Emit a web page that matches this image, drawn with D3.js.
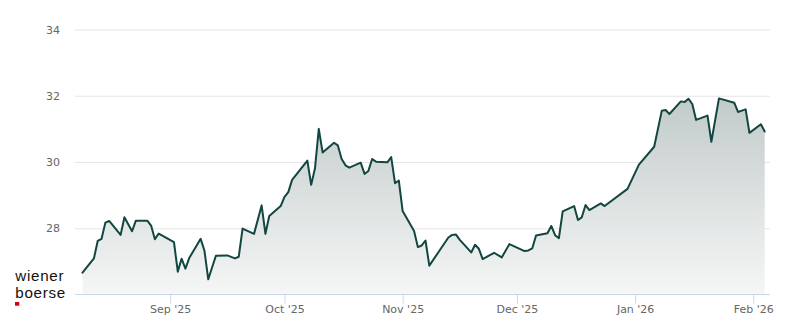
<!DOCTYPE html>
<html>
<head>
<meta charset="utf-8">
<script src="https://cdn.jsdelivr.net/npm/d3@7"></script>
<style>
  html, body { margin: 0; padding: 0; background: #ffffff; }
  svg { display: block; }
  .axis text { font-family: "DejaVu Sans", sans-serif; font-size: 11px; fill: #666666; }
</style>
</head>
<body>
<svg id="chart" width="800" height="324"></svg>
<script>
// Daily closing prices
const dates = [
  "2025-08-09","2025-08-12","2025-08-13","2025-08-14","2025-08-15","2025-08-16",
  "2025-08-19","2025-08-20","2025-08-22","2025-08-23","2025-08-26","2025-08-27",
  "2025-08-28","2025-08-29","2025-09-02","2025-09-03","2025-09-04","2025-09-05",
  "2025-09-06","2025-09-09","2025-09-10","2025-09-11","2025-09-13","2025-09-16",
  "2025-09-18","2025-09-19","2025-09-20","2025-09-23","2025-09-25","2025-09-26",
  "2025-09-27","2025-09-30","2025-10-01","2025-10-02","2025-10-03","2025-10-07",
  "2025-10-08","2025-10-09","2025-10-10","2025-10-11","2025-10-14","2025-10-15",
  "2025-10-16","2025-10-17","2025-10-18","2025-10-21","2025-10-22","2025-10-23",
  "2025-10-24","2025-10-25","2025-10-28","2025-10-29","2025-10-30","2025-10-31",
  "2025-11-01","2025-11-04","2025-11-05","2025-11-06","2025-11-07","2025-11-08",
  "2025-11-11","2025-11-13","2025-11-14","2025-11-15","2025-11-16","2025-11-19",
  "2025-11-20","2025-11-21","2025-11-22","2025-11-25","2025-11-27","2025-11-29",
  "2025-12-03","2025-12-04","2025-12-05","2025-12-06","2025-12-09","2025-12-10",
  "2025-12-11","2025-12-12","2025-12-13","2025-12-16","2025-12-17","2025-12-18",
  "2025-12-19","2025-12-20","2025-12-23","2025-12-24","2025-12-30","2026-01-02",
  "2026-01-06","2026-01-08","2026-01-09","2026-01-10","2026-01-13","2026-01-14",
  "2026-01-15","2026-01-16","2026-01-17","2026-01-20","2026-01-21","2026-01-23",
  "2026-01-27","2026-01-28","2026-01-29","2026-01-30","2026-01-31","2026-02-03",
  "2026-02-04"
];
const prices = [
  26.66, 27.09, 27.62, 27.68, 28.17, 28.22,
  27.80, 28.33, 27.91, 28.23, 28.23, 28.08,
  27.67, 27.84, 27.58, 26.69, 27.08, 26.78,
  27.10, 27.68, 27.32, 26.46, 27.17, 27.18,
  27.09, 27.14, 27.99, 27.83, 28.69, 27.83,
  28.37, 28.67, 28.95, 29.09, 29.46, 30.04,
  29.31, 29.81, 31.00, 30.29, 30.58, 30.50,
  30.09, 29.90, 29.83, 29.98, 29.64, 29.73,
  30.09, 30.01, 29.99, 30.15, 29.36, 29.44,
  28.52, 27.92, 27.43, 27.48, 27.63, 26.87,
  27.38, 27.72, 27.80, 27.81, 27.65, 27.27,
  27.50, 27.38, 27.07, 27.26, 27.12, 27.52,
  27.31, 27.33, 27.39, 27.78, 27.85, 28.07,
  27.79, 27.70, 28.51, 28.67, 28.25, 28.33,
  28.70, 28.55, 28.75, 28.67, 29.19, 29.92,
  30.46, 31.55, 31.57, 31.45, 31.83, 31.81,
  31.91, 31.75, 31.27, 31.40, 30.61, 31.92,
  31.79, 31.51, 31.55, 31.59, 30.88, 31.14,
  30.92
];

// Axis ticks
const yTicks = [28, 30, 32, 34];
const xTickDates = ["2025-09-01", "2025-10-01", "2025-11-01", "2025-12-01", "2026-01-01", "2026-02-01"];

const parse = d3.timeParse("%Y-%m-%d");
const data = dates.map((d, i) => ({ date: parse(d), value: prices[i] }));

const svg = d3.select("#chart");
const plotLeft = 75, plotRight = 770, plotTop = 29.5, plotBottom = 294.5;

const x = d3.scaleTime()
  .domain(d3.extent(data, d => d.date))
  .range([82.5, 764.7]);

const y = d3.scaleLinear()
  .domain([26, 34])
  .range([plotBottom, plotTop]);

// Horizontal grid and y labels
const yAxis = svg.append("g")
  .attr("class", "axis y-axis")
  .attr("transform", `translate(${plotLeft},0)`)
  .call(d3.axisLeft(y).tickValues(yTicks).tickSize(-(plotRight - plotLeft)).tickPadding(15).tickFormat(d3.format("d")));
yAxis.select(".domain").remove();
yAxis.selectAll(".tick line").attr("stroke", "#e6e6e6").attr("stroke-width", 1);

// Area with vertical gradient
const defs = svg.append("defs");
const grad = defs.append("linearGradient")
  .attr("id", "areaFill")
  .attr("x1", 0).attr("y1", 0).attr("x2", 0).attr("y2", 1);
grad.append("stop").attr("offset", "0%").attr("stop-color", "#c2cbca");
grad.append("stop").attr("offset", "100%").attr("stop-color", "#f5f6f6");

const area = d3.area()
  .x(d => x(d.date))
  .y0(y(26))
  .y1(d => y(d.value));

svg.append("path")
  .datum(data)
  .attr("d", area)
  .attr("fill", "url(#areaFill)");

// Bottom axis line and month ticks
svg.append("line")
  .attr("x1", plotLeft).attr("x2", plotRight)
  .attr("y1", plotBottom).attr("y2", plotBottom)
  .attr("stroke", "#ccd6eb").attr("stroke-width", 1);

const xAxis = svg.append("g")
  .attr("class", "axis x-axis")
  .attr("transform", `translate(0,${plotBottom})`)
  .call(d3.axisBottom(x)
    .tickValues(xTickDates.map(parse))
    .tickSize(9)
    .tickPadding(1.5)
    .tickFormat(d3.timeFormat("%b '%y")));
xAxis.select(".domain").remove();
xAxis.selectAll(".tick line").attr("stroke", "#ccd6eb").attr("stroke-width", 1);

// Price line
const line = d3.line()
  .x(d => x(d.date))
  .y(d => y(d.value));

svg.append("path")
  .datum(data)
  .attr("d", line)
  .attr("fill", "none")
  .attr("stroke", "#114641")
  .attr("stroke-width", 2)
  .attr("stroke-linejoin", "round")
  .attr("stroke-linecap", "round");

// Exchange logo: two-line word mark with a red square
const logo = svg.append("g").attr("class", "logo");
const logoStyle = sel => sel
  .style("font-family", "'Liberation Sans', Arial, sans-serif")
  .style("font-size", "15.2px")
  .style("letter-spacing", "0.7px")
  .attr("fill", "#111111");
logo.append("text").call(logoStyle).attr("x", 15.3).attr("y", 281.2).text("wiener");
logo.append("text").call(logoStyle).attr("x", 15.3).attr("y", 298.4).text("boerse");
logo.append("rect")
  .attr("x", 15).attr("y", 302)
  .attr("width", 4.3).attr("height", 3.7)
  .attr("fill", "#d0021b");
</script>
</body>
</html>
